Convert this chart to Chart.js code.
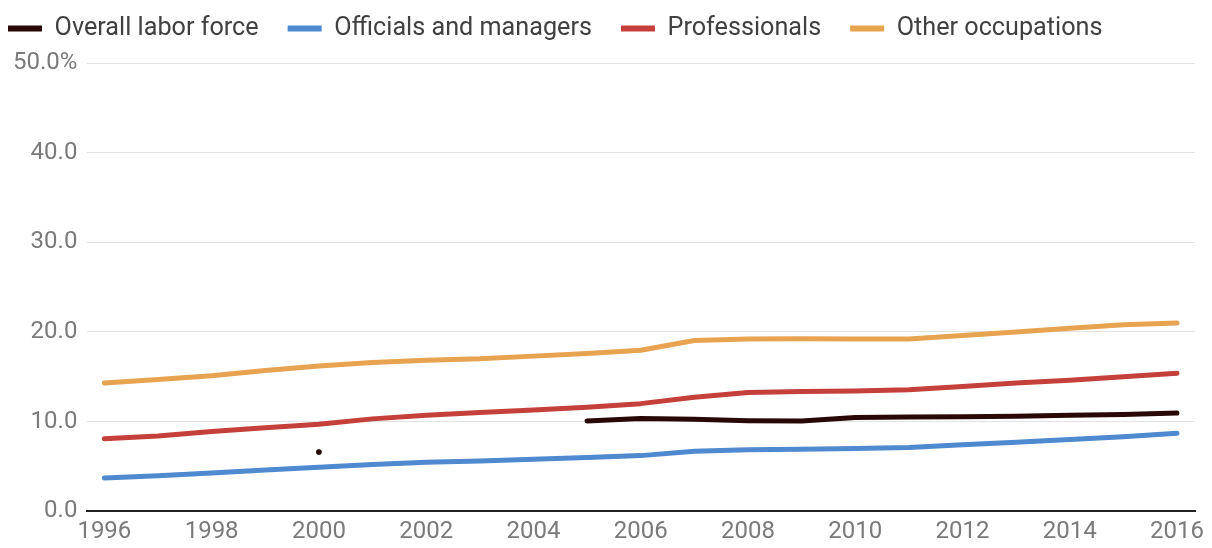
<!DOCTYPE html>
<html>
<head>
<meta charset="utf-8">
<script src="https://cdn.jsdelivr.net/npm/chart.js@4.4.1/dist/chart.umd.min.js"></script>
<style>
  html, body { margin: 0; padding: 0; background: #ffffff; }
  #wrap { width: 1212px; height: 548px; position: relative; }
</style>
</head>
<body>
<div id="wrap"><canvas id="c"></canvas></div>
<script>
// ---- data ----
const years = [1996,1997,1998,1999,2000,2001,2002,2003,2004,2005,2006,2007,2008,2009,2010,2011,2012,2013,2014,2015,2016];
const xTickYears = [1996,1998,2000,2002,2004,2006,2008,2010,2012,2014,2016];
const yTickValues = [0,10,20,30,40,50];
const seriesNames = ["Overall labor force","Officials and managers","Professionals","Other occupations"];
const overallLaborForce = [null,null,null,null,6.6,null,null,null,null,10.07,10.35,10.25,10.1,10.05,10.45,10.5,10.55,10.6,10.7,10.8,10.95];
const officialsAndManagers = [3.7,3.95,4.25,4.6,4.9,5.2,5.45,5.6,5.8,6.0,6.2,6.7,6.85,6.9,7.0,7.1,7.4,7.7,8.0,8.3,8.7];
const professionals = [8.07,8.4,8.9,9.3,9.7,10.3,10.7,11.0,11.3,11.6,12.0,12.7,13.25,13.35,13.4,13.55,13.9,14.3,14.6,15.0,15.4];
const otherOccupations = [14.3,14.7,15.1,15.7,16.2,16.6,16.85,17.0,17.3,17.6,17.95,19.05,19.2,19.25,19.2,19.2,19.6,20.0,20.4,20.8,21.0];

const seriesColors = ["#2a0808","#4f89cf","#c5403a","#e7a34f"];
const seriesValues = [overallLaborForce, officialsAndManagers, professionals, otherOccupations];

function toPoints(vals) {
  return years.map((yr, i) => ({ x: yr, y: vals[i] }));
}

const datasets = seriesValues.map((vals, k) => ({
  label: seriesNames[k],
  data: toPoints(vals),
  borderColor: seriesColors[k],
  backgroundColor: seriesColors[k],
  borderWidth: 5,
  borderCapStyle: 'round',
  borderJoinStyle: 'round',
  tension: 0,
  spanGaps: false,
  pointRadius: (ctx) => {
    const i = ctx.dataIndex;
    if (vals[i] == null) return 0;
    const prev = i > 0 ? vals[i - 1] : null;
    const next = i < vals.length - 1 ? vals[i + 1] : null;
    return (prev == null && next == null) ? 2.8 : 0;
  },
  pointHoverRadius: 0,
  pointBorderWidth: 0,
  pointBackgroundColor: seriesColors[k]
}));

const LEGEND_PAD = 29;
const LEGEND_FONT = 25.2;
const legendPlacer = {
  id: 'legendPlacer',
  afterInit(chart) {
    const lg = chart.legend;
    const fit = lg.fit.bind(lg);
    lg.fit = function () { fit(); this.height = 63; };
  },
  afterLayout(chart) {
    const lg = chart.legend;
    const dx = 8 - (lg.left + LEGEND_PAD);
    lg.left += dx; lg.right += dx;
    const dy = 28.5 - (lg.top + LEGEND_PAD + LEGEND_FONT / 2);
    lg.top += dy; lg.bottom += dy;
  }
};

new Chart(document.getElementById('c'), {
  type: 'line',
  data: { datasets },
  plugins: [legendPlacer],
  options: {
    responsive: true,
    maintainAspectRatio: false,
    animation: false,
    layout: { padding: { left: 3, right: 17, top: 0, bottom: -4 } },
    plugins: {
      tooltip: { enabled: false },
      legend: {
        display: true,
        position: 'top',
        align: 'start',
        labels: {
          boxWidth: 34,
          boxHeight: 6,
          padding: LEGEND_PAD,
          color: '#404040',
          font: { family: 'Roboto', size: LEGEND_FONT },
          generateLabels(chart) {
            const items = Chart.defaults.plugins.legend.labels.generateLabels(chart);
            return items.map((it, k) => Object.assign(it, { fillStyle: seriesColors[k], strokeStyle: seriesColors[k], lineWidth: 0 }));
          }
        }
      }
    },
    scales: {
      x: {
        type: 'linear',
        min: 1995.683,
        max: 2016.336,
        afterBuildTicks(scale) { scale.ticks = xTickYears.map(v => ({ value: v })); },
        grid: { display: false, drawTicks: false },
        border: { display: true, color: '#222222', width: 2 },
        ticks: {
          autoSkip: false,
          maxRotation: 0,
          padding: 6,
          color: '#7a7a7a',
          font: { family: 'Roboto', size: 24 },
          callback: (v) => String(v)
        }
      },
      y: {
        type: 'linear',
        min: 0,
        max: 50,
        afterBuildTicks(scale) { scale.ticks = yTickValues.map(v => ({ value: v })); },
        grid: {
          drawTicks: false,
          color: (ctx) => ctx.tick && ctx.tick.value === 0 ? 'rgba(0,0,0,0)' : '#e2e2e2',
          lineWidth: 1
        },
        border: { display: false },
        ticks: {
          padding: 10,
          color: '#7a7a7a',
          font: { family: 'Roboto', size: 24 },
          callback: (v) => v === 50 ? '50.0%' : v.toFixed(1)
        }
      }
    }
  }
});
</script>
</body>
</html>
